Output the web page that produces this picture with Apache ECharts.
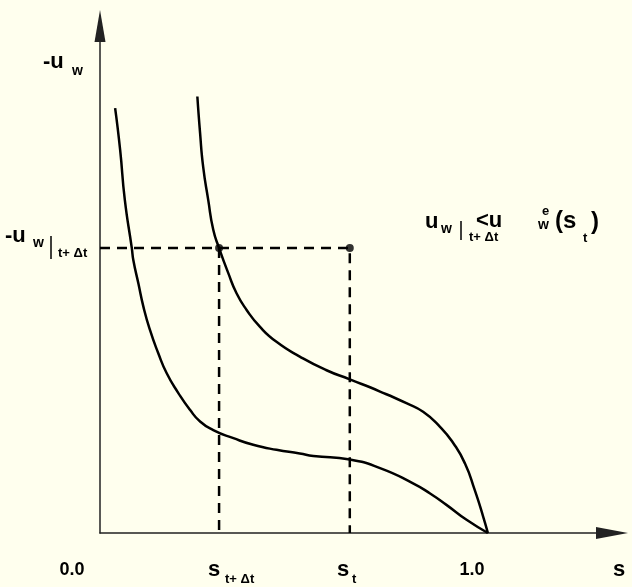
<!DOCTYPE html>
<html>
<head>
<meta charset="utf-8">
<script src="https://cdn.jsdelivr.net/npm/echarts@6/dist/echarts.min.js"></script>
<style>
    html, body { margin: 0; padding: 0; background: #ffffee; }
    #main { width: 632px; height: 587px; }
</style>
</head>
<body>
<div id="main"></div>
<script>
/*
* 饱和度 s 与吸力 -u_w 曲线（读图取值）
* */
// lower curve
var sLower = [0.039, 0.052, 0.064, 0.082, 0.086, 0.099, 0.112, 0.129, 0.150, 0.172, 0.202, 0.232, 0.258, 0.292, 0.344, 0.395, 0.455, 0.515, 0.550, 0.644, 0.722, 0.807, 0.851, 0.894, 0.945, 1.0];
var uLower = [0.838, 0.755, 0.657, 0.562, 0.538, 0.492, 0.446, 0.400, 0.355, 0.315, 0.276, 0.243, 0.220, 0.203, 0.187, 0.174, 0.164, 0.157, 0.152, 0.145, 0.128, 0.098, 0.078, 0.055, 0.026, 0];
// upper curve
var sUpper = [0.251, 0.258, 0.266, 0.279, 0.292, 0.307, 0.331, 0.352, 0.378, 0.412, 0.455, 0.515, 0.584, 0.644, 0.722, 0.790, 0.833, 0.876, 0.911, 0.941, 0.966, 0.988, 1.0];
var uUpper = [0.861, 0.789, 0.722, 0.657, 0.598, 0.562, 0.512, 0.473, 0.440, 0.407, 0.377, 0.348, 0.321, 0.303, 0.279, 0.256, 0.239, 0.210, 0.177, 0.137, 0.085, 0.032, 0];
// marked state
var uLevel = 0.562;   // -u_w at t+Δt
var sNext = 0.307;    // s at t+Δt
var sNow = 0.644;     // s at t
// tick labels under the s axis
var tickText = ['0.0', '1.0'];

function zip(xs, ys) {
    var out = [];
    for (var i = 0; i < xs.length; i++) out.push([xs[i], ys[i]]);
    return out;
}

var FONT = '"Liberation Sans", Arial, sans-serif';
function txt(t, x, y, size, align) {
    return {
        type: 'text', x: x, y: y, z: 20,
        style: {
            text: t, fill: '#000', fontFamily: FONT, fontWeight: 'bold', fontSize: size,
            align: align || 'left', verticalAlign: 'middle'
        }
    };
}
function bar(x, y1, y2) {
    return {type: 'line', z: 20, shape: {x1: x, y1: y1, x2: x, y2: y2}, style: {stroke: '#000', lineWidth: 1.5}};
}

var chart = echarts.init(document.getElementById('main'));
var option = {
    animation: false,
    backgroundColor: '#ffffee',
    grid: {left: 100, right: 20, top: 26, bottom: 54},
    xAxis: {
        type: 'value', min: 0, max: 1.32,
        axisLine: {show: true, symbol: ['none', 'triangle'], symbolSize: [12, 32], lineStyle: {color: '#222', width: 1.5}},
        axisTick: {show: false}, axisLabel: {show: false}, splitLine: {show: false}
    },
    yAxis: {
        type: 'value', min: 0, max: 1.0,
        axisLine: {show: true, symbol: ['none', 'triangle'], symbolSize: [11, 32], lineStyle: {color: '#222', width: 1.5}},
        axisTick: {show: false}, axisLabel: {show: false}, splitLine: {show: false}
    },
    series: [
        {
            type: 'line', data: zip(sLower, uLower), smooth: 0.55,
            symbol: 'none', lineStyle: {color: '#000', width: 2.5}, z: 5
        },
        {
            type: 'line', data: zip(sUpper, uUpper), smooth: 0.55,
            symbol: 'none', lineStyle: {color: '#000', width: 2.5}, z: 5
        },
        {
            type: 'line', data: [[0, uLevel], [sNow, uLevel], [sNow, 0]],
            symbol: 'none', lineStyle: {color: '#000', width: 2.5, type: [10, 7]}, z: 4
        },
        {
            type: 'line', data: [[sNext, uLevel], [sNext, 0]],
            symbol: 'none', lineStyle: {color: '#000', width: 2.5, type: [10, 7]}, z: 4
        },
        {
            type: 'scatter', data: [[sNext, uLevel], [sNow, uLevel]],
            symbolSize: 8, itemStyle: {color: '#000'}, z: 6
        }
    ],
    graphic: [
        // y axis name
        txt('-u', 43, 62, 22), txt('w', 72, 71, 14),
        // level on y axis
        txt('-u', 5, 236, 22), txt('w', 33, 243, 14), bar(51, 236, 259), txt('t+ Δt', 58, 253, 13),
        // note
        txt('u', 425, 222, 22), txt('w', 441, 229, 14), bar(461, 221, 240),
        txt('<u', 476, 221, 22), txt('t+ Δt', 469, 237, 13),
        txt('e', 542, 211, 13), txt('w', 538, 225, 14),
        txt('(s', 555, 221, 24), txt('t', 583, 238, 13), txt(')', 591, 222, 24),
        // s axis labels
        txt(tickText[0], 72, 570, 18, 'center'),
        txt('s', 208, 570, 22), txt('t+ Δt', 225, 579, 13),
        txt('s', 337, 570, 22), txt('t', 352, 579, 13),
        txt(tickText[1], 472, 570, 18, 'center'),
        txt('s', 613, 570, 22)
    ]
};
chart.setOption(option);
</script>
</body>
</html>
